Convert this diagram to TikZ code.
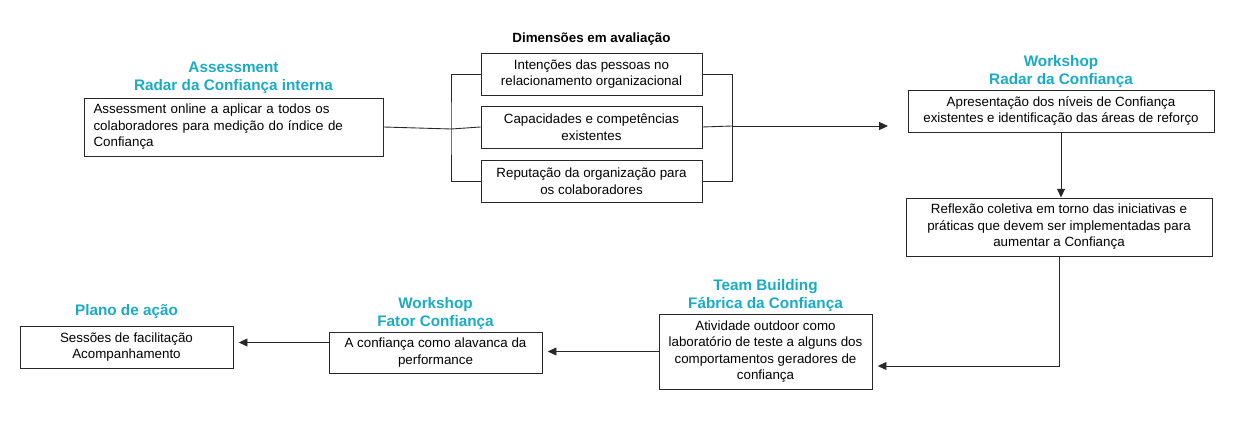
\documentclass[tikz,border=0pt]{standalone}
\usepackage{fontspec}
\setmainfont{Liberation Sans}
\usepackage{tikz}
\usetikzlibrary{arrows.meta,positioning,calc}
\usepackage{xcolor}
\definecolor{trustteal}{RGB}{27,170,196}
\definecolor{boxline}{RGB}{40,40,40}

\begin{document}
\begin{tikzpicture}[x=0.02cm, y=-0.02cm,
    box/.style={draw=boxline, line width=0.5pt, align=center, inner sep=1pt,
                font=\fontsize{7.6}{9.4}\selectfont},
    ttl/.style={font=\fontsize{8.7}{10.3}\selectfont\bfseries, text=trustteal,
                align=center, inner sep=1pt},
    link/.style={line width=0.5pt, draw=boxline},
    flow/.style={link, -{Triangle[length=5pt, width=4.5pt]}}]
    \useasboundingbox (0,0) rectangle (1243,425);
    % first row
    \node[box, minimum width=5.98cm, minimum height=1.16cm, text width=5.6cm, align=left]
        (assess) at (233.5,127) {Assessment online a aplicar a todos os\\colaboradores para medição do índice de\\Confiança};
    \node[ttl, above=1pt of assess] {Assessment\\Radar da Confiança interna};
    \node[box, minimum width=4.42cm, minimum height=0.84cm]
        (dim1) at (591.5,74) {Intenções das pessoas no\\relacionamento organizacional};
    \node[box, minimum width=4.42cm, minimum height=0.84cm]
        (dim2) at (591.5,127) {Capacidades e competências\\existentes};
    \node[box, minimum width=4.42cm, minimum height=0.84cm]
        (dim3) at (591.5,181) {Reputação da organização para\\os colaboradores};
    \node[font=\fontsize{7.6}{9.4}\selectfont\bfseries, inner sep=1pt, above=3pt of dim1]
        (dimttl) {Dimensões em avaliação};
    \node[box, minimum width=6.12cm, minimum height=0.84cm]
        (radar) at (1061,111) {Apresentação dos níveis de Confiança\\existentes e identificação das áreas de reforço};
    \node[ttl, above=0pt of radar] {Workshop\\Radar da Confiança};
    \node[box, minimum width=6.12cm, minimum height=1.16cm]
        (reflex) at (1059,227) {Reflexão coletiva em torno das iniciativas e\\práticas que devem ser implementadas para\\aumentar a Confiança};
    % second row
    \node[box, minimum width=4.26cm, minimum height=1.5cm]
        (team) at (765.5,351.5) {Atividade outdoor como\\laboratório de teste a alguns dos\\comportamentos geradores de\\confiança};
    \node[ttl, above=0pt of team] {Team Building\\Fábrica da Confiança};
    \node[box, minimum width=4.26cm, minimum height=0.82cm]
        (fator) at (435.5,352.5) {A confiança como alavanca da\\performance};
    \node[ttl, above=0pt of fator] {Workshop\\Fator Confiança};
    \node[box, minimum width=4.26cm, minimum height=0.84cm]
        (plano) at (126.5,347) {Sessões de facilitação\\Acompanhamento};
    \node[ttl, above=3pt of plano] {Plano de ação};
    % brackets round the dimensions
    \coordinate (lb) at (451,129);
    \coordinate (rb) at (732,126);
    \coordinate (rtip) at (888,126);
    \draw[link] (assess.east) -- (lb);
    \draw[link] (dim1.west) -| (lb) |- (dim3.west);
    \draw[link] (lb) -- (dim2.west);
    \draw[link] (dim1.east) -| (rb) |- (dim3.east);
    \draw[link] (dim2.east) -- (rb);
    \draw[flow] (rb) -- (rtip);
    % flow
    \draw[flow] (radar.south) -- (radar.south |- reflex.north);
    \draw[flow] (reflex.south) |- ([yshift=-0.29cm, xshift=3pt]team.east);
    \draw[flow] (team.west) -- ([xshift=3pt]team.west -| fator.east);
    \coordinate (fl) at ([yshift=0.2cm]fator.west);
    \draw[flow] (fl) -- ([xshift=3pt]fl -| plano.east);
\end{tikzpicture}
\end{document}
